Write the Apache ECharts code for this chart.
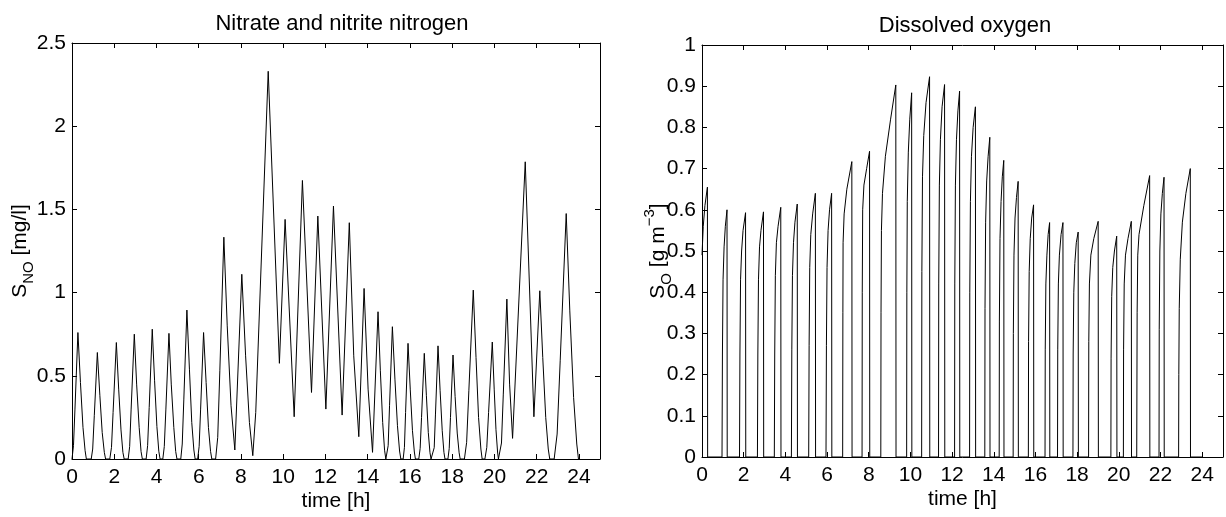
<!DOCTYPE html>
<html>
<head>
<meta charset="utf-8">
<script src="https://cdn.jsdelivr.net/npm/echarts@6/dist/echarts.min.js"></script>
<style>
html,body{margin:0;padding:0;background:#fff;}
#chart{width:1226px;height:517px;}
</style>
</head>
<body>
<div id="chart"></div>
<script>
// Titles and axis labels
const titles = ['Nitrate and nitrite nitrogen', 'Dissolved oxygen'];
const xName = 'time [h]';
const xTicks = [0, 2, 4, 6, 8, 10, 12, 14, 16, 18, 20, 22, 24];
const noTicks = [0, 0.5, 1, 1.5, 2, 2.5];
const doTicks = [0, 0.1, 0.2, 0.3, 0.4, 0.5, 0.6, 0.7, 0.8, 0.9, 1];

// Nitrate and nitrite nitrogen S_NO [mg/l] : [time h, value]
const noPoints = [
  [0,0],[0.07,0.08],[0.14,0.30],[0.28,0.76],[0.40,0.46],[0.52,0.19],[0.62,0.05],[0.68,0],
  [0.91,0],[0.98,0.06],[1.055,0.26],[1.20,0.64],[1.32,0.38],[1.43,0.16],[1.53,0.04],[1.59,0],
  [1.79,0],[1.87,0.07],[1.945,0.28],[2.10,0.70],[2.21,0.42],[2.32,0.175],[2.41,0.04],[2.47,0],
  [2.66,0],[2.73,0.075],[2.80,0.30],[2.95,0.75],[3.06,0.45],[3.18,0.19],[3.27,0.045],[3.33,0],
  [3.51,0],[3.58,0.08],[3.655,0.31],[3.80,0.78],[3.91,0.47],[4.02,0.195],[4.11,0.047],[4.17,0],
  [4.30,0],[4.37,0.075],[4.445,0.30],[4.59,0.755],[4.70,0.45],[4.82,0.19],[4.91,0.045],[4.97,0],
  [5.15,0],[5.22,0.09],[5.295,0.36],[5.44,0.895],[5.56,0.54],[5.67,0.22],[5.77,0.054],[5.83,0],
  [5.95,0],[6.02,0.076],[6.09,0.30],[6.23,0.76],[6.35,0.46],[6.46,0.19],[6.56,0.046],[6.62,0],
  [6.80,0],[6.90,0.13],[7.00,0.53],[7.19,1.333],[7.35,0.80],[7.53,0.32],[7.71,0.054],
  [8.04,1.11],[8.22,0.62],[8.40,0.22],[8.56,0.02],
  [8.70,0.28],[9.29,2.33],[9.82,0.575],[10.09,1.44],[10.52,0.254],[10.91,1.674],[11.34,0.40],
  [11.64,1.46],[12.02,0.30],[12.38,1.52],[12.79,0.264],[13.13,1.42],[13.34,0.62],[13.58,0.134],
  [13.83,1.025],[14.02,0.42],[14.23,0.04],[14.49,0.885],
  [14.60,0.53],[14.71,0.22],[14.80,0.053],[14.86,0],
  [14.90,0],[14.97,0.08],[15.035,0.32],[15.17,0.795],[15.29,0.48],[15.41,0.20],[15.51,0.048],[15.57,0],
  [15.68,0],[15.74,0.07],[15.795,0.28],[15.91,0.695],[16.015,0.42],[16.12,0.17],[16.21,0.042],[16.26,0],
  [16.42,0],[16.485,0.064],[16.55,0.25],[16.68,0.635],[16.78,0.38],[16.87,0.16],[16.95,0.038],[17.00,0],
  [17.09,0],[17.15,0.068],[17.21,0.27],[17.33,0.68],[17.43,0.41],[17.53,0.17],[17.61,0.04],[17.66,0],
  [17.80,0],[17.86,0.063],[17.92,0.25],[18.04,0.625],[18.14,0.375],[18.24,0.156],[18.33,0.037],[18.38,0],
  [18.58,0],[18.685,0.10],[18.79,0.41],[19.00,1.015],[19.13,0.61],[19.25,0.25],[19.36,0.06],[19.42,0],
  [19.55,0],[19.64,0.07],[19.725,0.28],[19.90,0.703],[19.99,0.42],[20.075,0.176],[20.15,0.042],[20.19,0],
  [20.25,0],[20.335,0.096],[20.42,0.385],[20.59,0.961],[20.72,0.45],[20.86,0.124],
  [21.46,1.786],[21.87,0.254],[22.15,1.011],[22.29,0.61],[22.43,0.25],[22.55,0.06],[22.62,0],
  [22.83,0],[22.97,0.15],[23.115,0.59],[23.40,1.475],[23.57,0.89],[23.75,0.37],[23.90,0.09],[23.98,0]
];

// Dissolved oxygen S_O [g m^-3] : [time h, value]
const doPoints = [
  [0,0.49],[0.06,0.56],[0.14,0.61],[0.26,0.655],[0.27,0],
  [0.96,0],[0.98,0.25],[1.01,0.43],[1.06,0.51],[1.12,0.56],[1.20,0.60],[1.21,0],
  [1.80,0],[1.82,0.25],[1.85,0.43],[1.90,0.50],[1.97,0.55],[2.09,0.593],[2.10,0],
  [2.66,0],[2.68,0.25],[2.71,0.43],[2.76,0.51],[2.83,0.55],[2.95,0.595],[2.96,0],
  [3.47,0],[3.49,0.25],[3.52,0.44],[3.57,0.52],[3.65,0.56],[3.78,0.606],[3.79,0],
  [4.29,0],[4.31,0.26],[4.34,0.44],[4.39,0.52],[4.46,0.57],[4.57,0.614],[4.58,0],
  [5.12,0],[5.14,0.27],[5.17,0.46],[5.22,0.54],[5.31,0.59],[5.44,0.64],[5.45,0],
  [5.95,0],[5.97,0.27],[6.00,0.46],[6.05,0.55],[6.12,0.60],[6.22,0.64],[6.23,0],
  [6.75,0],[6.76,0.35],[6.77,0.52],[6.82,0.59],[6.95,0.65],[7.19,0.717],[7.20,0],
  [7.68,0],[7.69,0.40],[7.71,0.60],[7.77,0.66],[7.90,0.70],[8.04,0.742],[8.05,0],
  [8.58,0],[8.59,0.35],[8.61,0.55],[8.66,0.64],[8.80,0.73],[9.05,0.82],[9.30,0.903],[9.31,0],
  [9.82,0],[9.83,0.40],[9.85,0.62],[9.90,0.74],[9.97,0.82],[10.06,0.884],[10.07,0],
  [10.54,0],[10.55,0.45],[10.58,0.68],[10.64,0.78],[10.75,0.86],[10.92,0.923],[10.93,0],
  [11.35,0],[11.36,0.42],[11.39,0.66],[11.44,0.77],[11.52,0.85],[11.64,0.904],[11.65,0],
  [12.12,0],[12.13,0.42],[12.16,0.66],[12.21,0.77],[12.28,0.84],[12.36,0.888],[12.37,0],
  [12.84,0],[12.85,0.40],[12.88,0.62],[12.93,0.73],[13.01,0.80],[13.12,0.85],[13.13,0],
  [13.57,0],[13.58,0.36],[13.61,0.57],[13.66,0.67],[13.73,0.73],[13.81,0.776],[13.82,0],
  [14.26,0],[14.27,0.33],[14.30,0.53],[14.35,0.62],[14.41,0.68],[14.48,0.72],[14.49,0],
  [14.93,0],[14.94,0.30],[14.97,0.49],[15.02,0.58],[15.09,0.63],[15.17,0.669],[15.18,0],
  [15.66,0],[15.67,0.28],[15.70,0.45],[15.75,0.53],[15.82,0.58],[15.91,0.612],[15.92,0],
  [16.46,0],[16.47,0.26],[16.50,0.42],[16.55,0.49],[16.61,0.54],[16.68,0.569],[16.69,0],
  [17.06,0],[17.07,0.26],[17.10,0.42],[17.15,0.49],[17.23,0.54],[17.32,0.569],[17.33,0],
  [17.80,0],[17.81,0.25],[17.84,0.40],[17.89,0.47],[17.96,0.52],[18.05,0.546],[18.06,0],
  [18.55,0],[18.56,0.28],[18.59,0.42],[18.66,0.49],[18.80,0.53],[19.01,0.572],[19.02,0],
  [19.62,0],[19.63,0.24],[19.66,0.39],[19.71,0.46],[19.79,0.50],[19.90,0.536],[19.91,0],
  [20.22,0],[20.23,0.26],[20.26,0.42],[20.32,0.49],[20.44,0.53],[20.60,0.572],[20.61,0],
  [20.86,0],[20.88,0.35],[20.91,0.49],[20.97,0.54],[21.20,0.61],[21.48,0.683],[21.49,0],
  [21.93,0],[21.94,0.31],[21.97,0.50],[22.02,0.59],[22.09,0.64],[22.17,0.679],[22.18,0],
  [22.87,0],[22.88,0.20],[22.90,0.36],[22.95,0.48],[23.05,0.57],[23.22,0.64],[23.43,0.70],[23.44,0],
  [24.0,0]
];

const FONT = '"Liberation Sans", Arial, Helvetica, sans-serif';
const BLACK = '#000';

function xAxes(gi) {
  const base = {
    gridIndex: gi, type: 'value', min: 0, max: 25, interval: 2,
    axisLine: { show: true, onZero: false, lineStyle: { color: BLACK, width: 1 } },
    axisTick: { show: true, inside: true, length: 5, lineStyle: { color: BLACK } },
    splitLine: { show: false }
  };
  return [
    Object.assign({}, base, {
      position: 'bottom',
      axisLabel: {
        show: true, margin: 8, color: BLACK, fontFamily: FONT, fontSize: 21,
        formatter: v => (xTicks.indexOf(v) >= 0 ? String(v) : '')
      },
      name: xName, nameLocation: 'middle', nameGap: 32, nameMoveOverlap: false,
      nameTextStyle: { color: BLACK, fontFamily: FONT, fontSize: 21 }
    }),
    Object.assign({}, base, { position: 'top', axisLabel: { show: false } })
  ];
}

function yAxes(gi, ticks, interval, nameRich, gap) {
  const base = {
    gridIndex: gi, type: 'value', min: ticks[0], max: ticks[ticks.length - 1], interval: interval,
    axisLine: { show: true, onZero: false, lineStyle: { color: BLACK, width: 1 } },
    axisTick: { show: true, inside: true, length: 5, lineStyle: { color: BLACK } },
    splitLine: { show: false }
  };
  return [
    Object.assign({}, base, {
      position: 'left',
      axisLabel: {
        show: true, margin: 6, color: BLACK, fontFamily: FONT, fontSize: 21,
        formatter: v => String(parseFloat(v.toFixed(2)))
      },
      name: nameRich, nameLocation: 'middle', nameGap: gap, nameRotate: 90,
      nameMoveOverlap: false,
      nameTextStyle: {
        color: BLACK, fontFamily: FONT, fontSize: 21,
        rich: {
          s: { fontFamily: FONT, fontSize: 21, color: BLACK, lineHeight: 32, verticalAlign: 'middle' },
          sub: { fontFamily: FONT, fontSize: 15, color: BLACK, lineHeight: 32, verticalAlign: 'bottom' },
          sup: { fontFamily: FONT, fontSize: 15, color: BLACK, lineHeight: 32, verticalAlign: 'top' }
        }
      }
    }),
    Object.assign({}, base, { position: 'right', axisLabel: { show: false } })
  ];
}

const chart = echarts.init(document.getElementById('chart'), null, { renderer: 'canvas' });
const option = {
  animation: false,
  backgroundColor: '#fff',
  title: [
    { text: titles[0], left: 337, top: 8, textAlign: 'center',
      textStyle: { fontFamily: FONT, fontSize: 22, fontWeight: 'normal', color: BLACK } },
    { text: titles[1], left: 960, top: 10, textAlign: 'center',
      textStyle: { fontFamily: FONT, fontSize: 22, fontWeight: 'normal', color: BLACK } }
  ],
  grid: [
    { left: 72, top: 43, width: 528, height: 416, containLabel: false },
    { left: 702, top: 45, width: 523, height: 412, containLabel: false }
  ],
  xAxis: xAxes(0).concat(xAxes(1)),
  yAxis: yAxes(0, noTicks, 0.5, '{s|S}{sub|NO}{s| [mg/l]}', 36)
    .concat(yAxes(1, doTicks, 0.1, '{s|S}{sub|O}{s| [g m}{sup|−3}{s|]}', 28)),
  series: [
    { type: 'line', xAxisIndex: 0, yAxisIndex: 0, data: noPoints, showSymbol: false,
      lineStyle: { color: BLACK, width: 1 }, itemStyle: { color: BLACK } },
    { type: 'line', xAxisIndex: 2, yAxisIndex: 2, data: doPoints, showSymbol: false,
      lineStyle: { color: BLACK, width: 1 }, itemStyle: { color: BLACK } }
  ]
};
chart.setOption(option);
</script>
</body>
</html>
